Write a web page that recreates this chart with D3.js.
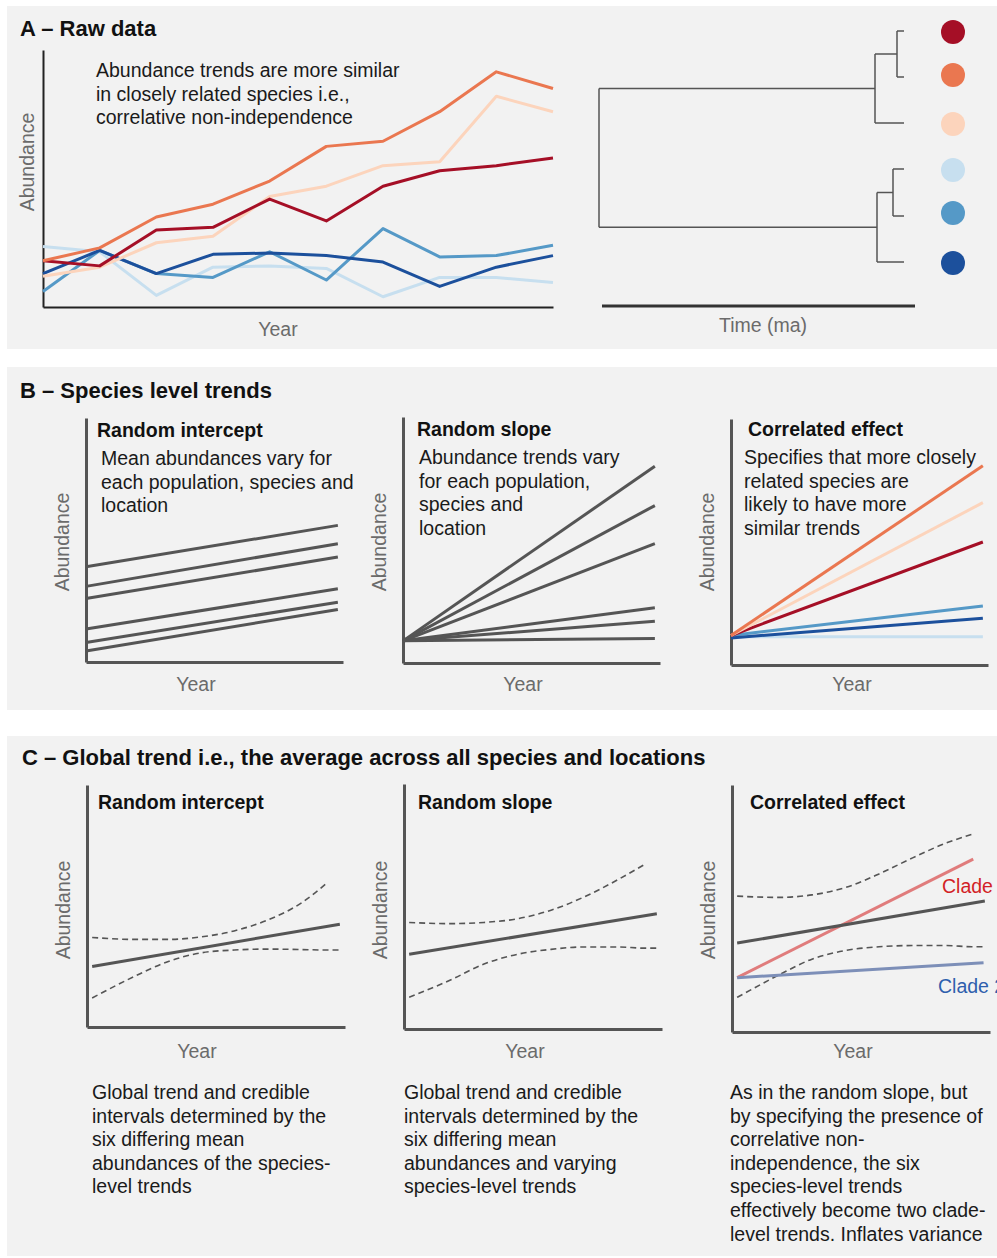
<!DOCTYPE html>
<html>
<head>
<meta charset="utf-8">
<script src="https://cdn.jsdelivr.net/npm/d3@7"></script>
<style>
  html, body { margin: 0; padding: 0; background: #ffffff; }
  svg { display: block; font-family: "Liberation Sans", Arial, Helvetica, sans-serif; }
</style>
</head>
<body>
<svg id="fig" width="997" height="1258"></svg>
<script>
// ---------- data ----------
const speciesNames = ["sp1", "sp2", "sp3", "sp4", "sp5", "sp6"];
const speciesColors = ["#a50f26", "#ea7750", "#fcd4bc", "#c7dfef", "#5599c7", "#1c509c"];
const rawYears = [0, 1, 2, 3, 4, 5, 6, 7, 8, 9];

// raw abundance series, one per species (same order as speciesNames)
const rawSp1 = [18, 16, 30, 31, 42, 33.5, 47, 53, 55, 58];
const rawSp2 = [18, 23, 35, 40, 49, 62.5, 64.5, 76, 91.5, 85];
const rawSp3 = [12, 15.5, 25, 27.5, 43, 47, 55, 56.5, 82, 76];
const rawSp4 = [23.5, 21.5, 4.5, 15.5, 16, 15, 4, 11.5, 11.5, 9.5];
const rawSp5 = [6, 22, 13, 11.5, 21.5, 10.5, 30.5, 19.5, 20, 24];
const rawSp6 = [13, 22, 13, 20.5, 21, 20, 17.5, 8, 15.5, 20];

// phylogeny (branch lengths in time units); tip order matches species order
const treeData = { children: [
  { len: 276, children: [
    { len: 22, children: [ { name: "sp1", len: 7 }, { name: "sp2", len: 7 } ] },
    { name: "sp3", len: 29 } ] },
  { len: 278, children: [
    { len: 16, children: [ { name: "sp4", len: 11 }, { name: "sp5", len: 11 } ] },
    { name: "sp6", len: 27 } ] }
] };
const tipRows = [31, 77, 123, 169, 216, 262];
const dotRows = [32, 75, 124, 170, 213, 263];

// species-level trends (start value, end value) for panel B
const trendYears = [0, 0.98];
const interceptStarts = [39, 31, 26, 13.5, 8, 4.5];
const interceptEnds = [56, 48.5, 43, 30, 24.5, 21.5];
const slopeStarts = [9, 9, 9, 9, 9, 9];
const slopeEnds = [80, 64, 48.5, 22.5, 17, 10];
const corrStarts = [12, 12, 12, 11.5, 12, 11];
const corrEnds = [50, 81, 66, 11.5, 24, 19];   // sp1..sp6

// global trends with credible intervals for panel C
const globalYears = [0.02, 0.98];
const ciYears = [0.02, 0.18, 0.31, 0.44, 0.57, 0.70, 0.83, 0.93, 0.98];
const gInterceptMean = [25, 42.5];
const gInterceptUpper = [37, 36.2, 36.2, 37.2, 39.7, 44.2, 51.2, 59.5, null];
const gInterceptLower = [12, 20.7, 26.9, 30.6, 31.8, 32.2, 32.0, 31.8, 31.8];
const gSlopeMean = [30.5, 47];
const gSlopeUpper = [43.5, 43, 43.5, 45, 48.5, 54, 61, 67, null];
const gSlopeLower = [13, 20, 26.5, 30.5, 32.5, 33.5, 33.5, 33, 33];
const gCorrMean = [36, 53];
const gCorrUpper = [55, 54.5, 55.5, 58.5, 64, 70.5, 76.5, 80, null];
const gCorrLower = [14, 23, 29.5, 33, 34.5, 35, 35, 34.5, 34.5];
const clade1Trend = [22, 70];
const clade1Years = [0.02, 0.935];
const clade2Trend = [22, 28];
const clade2Years = [0.02, 0.975];
const cladeLabels = ["Clade 1", "Clade 2"];
const cladeColors = ["#e07c7c", "#7d8fb8"];
const cladeTextColors = ["#d21f26", "#2f5fad"];

// ---------- styling ----------
const svg = d3.select("#fig");
const panelFill = "#f2f2f2";
const axisColor = "#555555";
const labelColor = "#6b6b6b";
const textSize = 19.5;

// panel backgrounds
const panels = [
  { y0: 6, y1: 349 },
  { y0: 367, y1: 710 },
  { y0: 736, y1: 1256 }
];
svg.selectAll("rect.panel").data(panels).join("rect")
  .attr("class", "panel")
  .attr("x", 7).attr("y", d => d.y0)
  .attr("width", 990).attr("height", d => d.y1 - d.y0)
  .attr("fill", panelFill);

function title(txt, x, y) {
  svg.append("text").attr("x", x).attr("y", y)
    .attr("font-size", 22).attr("font-weight", "bold").attr("fill", "#111")
    .attr("dominant-baseline", "central").text(txt);
}
function subTitle(txt, x, y) {
  svg.append("text").attr("x", x).attr("y", y)
    .attr("font-size", 19.5).attr("font-weight", "bold").attr("fill", "#111")
    .attr("dominant-baseline", "central").text(txt);
}
function para(lines, x, y, gap) {
  const t = svg.append("text").attr("font-size", textSize).attr("fill", "#1a1a1a");
  lines.forEach((l, i) => {
    t.append("tspan").attr("x", x).attr("y", y + i * gap)
      .attr("dominant-baseline", "central").text(l);
  });
}
function axisLabels(xs, yMid, yearX, yearY) {
  svg.append("text").attr("transform", `translate(${xs},${yMid}) rotate(-90)`)
    .attr("text-anchor", "middle").attr("dominant-baseline", "central")
    .attr("font-size", textSize).attr("fill", labelColor).text("Abundance");
  svg.append("text").attr("x", yearX).attr("y", yearY)
    .attr("text-anchor", "middle").attr("dominant-baseline", "central")
    .attr("font-size", textSize).attr("fill", labelColor).text("Year");
}
// plain L-shaped axis frame (no ticks)
function frame(x, y, w) {
  const g = svg.append("g");
  g.append("g").attr("transform", `translate(${x.range()[0]},0)`)
    .call(d3.axisLeft(y).tickValues([]).tickSizeOuter(0));
  g.append("g").attr("transform", `translate(0,${y.range()[0]})`)
    .call(d3.axisBottom(x).tickValues([]).tickSizeOuter(0));
  g.selectAll(".domain").attr("stroke", axisColor).attr("stroke-width", w);
  return g;
}

// ---------- A: raw data ----------
title("A – Raw data", 20, 28);
{
  const x = d3.scaleLinear().domain([0, 9]).range([43, 553]);
  const y = d3.scaleLinear().domain([0, 100]).range([307, 50]);
  const g = frame(x, y, 2);
  g.selectAll(".domain").attr("stroke", "#222");
  const series = [rawSp1, rawSp2, rawSp3, rawSp4, rawSp5, rawSp6];
  const line = d3.line().x((d, i) => x(rawYears[i])).y(d => y(d));
  const drawOrder = [3, 4, 5, 2, 0, 1];
  svg.append("g").selectAll("path").data(drawOrder).join("path")
    .attr("d", i => line(series[i]))
    .attr("fill", "none").attr("stroke", i => speciesColors[i])
    .attr("stroke-width", 3).attr("stroke-linejoin", "round");
  para(["Abundance trends are more similar", "in closely related species i.e.,",
        "correlative non-independence"], 96, 70, 23.5);
  axisLabels(27, 162, 278, 329);
}

// phylogeny with tip dots
{
  const root = d3.hierarchy(treeData);
  root.each(n => { n.dist = (n.parent ? n.parent.dist : 0) + (n.data.len || 0); });
  const tx = d3.scaleLinear().domain([0, d3.max(root.leaves(), d => d.dist)]).range([599, 904]);
  const tipY = d3.scaleOrdinal().domain(speciesNames).range(tipRows);
  root.eachAfter(n => {
    n.py = n.children ? d3.mean(n.children, c => c.py) : tipY(n.data.name);
  });
  const tg = svg.append("g").attr("fill", "none").attr("stroke", "#555").attr("stroke-width", 1.5);
  root.descendants().forEach(n => {
    if (n.parent) {
      tg.append("path").attr("d", `M${tx(n.parent.dist)},${n.py}H${tx(n.dist)}`);
    }
    if (n.children) {
      const ys = n.children.map(c => c.py);
      tg.append("path").attr("d", `M${tx(n.dist)},${d3.min(ys)}V${d3.max(ys)}`);
    }
  });
  const dotY = d3.scaleOrdinal().domain(speciesNames).range(dotRows);
  svg.append("g").selectAll("circle").data(speciesNames).join("circle")
    .attr("cx", 953).attr("cy", d => dotY(d))
    .attr("r", 12).attr("fill", (d, i) => speciesColors[i]);
  svg.append("line").attr("x1", 602).attr("x2", 915).attr("y1", 306).attr("y2", 306)
    .attr("stroke", "#333").attr("stroke-width", 3);
  svg.append("text").attr("x", 763).attr("y", 325).attr("text-anchor", "middle")
    .attr("dominant-baseline", "central").attr("font-size", textSize).attr("fill", labelColor)
    .text("Time (ma)");
}

// ---------- B: species level trends ----------
title("B – Species level trends", 20, 390);
function trendPanel(cfg) {
  const x = d3.scaleLinear().domain([0, 1]).range([cfg.x0, cfg.x1]);
  const y = d3.scaleLinear().domain([0, 100]).range([cfg.yb, cfg.yt]);
  frame(x, y, 3);
  const line = d3.line().x((d, i) => x(trendYears[i])).y(d => y(d));
  svg.append("g").selectAll("path").data(cfg.order).join("path")
    .attr("d", i => line([cfg.starts[i], cfg.ends[i]]))
    .attr("fill", "none").attr("stroke", i => cfg.colors ? cfg.colors[i] : axisColor)
    .attr("stroke-width", 3);
  subTitle(cfg.title, cfg.tx, cfg.ty);
  para(cfg.lines, cfg.px, cfg.ty + 28, 23.5);
  axisLabels(cfg.x0 - 24, 542, cfg.yearX, 684);
}
trendPanel({ x0: 86, x1: 343, yb: 662, yt: 418, starts: interceptStarts, ends: interceptEnds,
  order: [0, 1, 2, 3, 4, 5], title: "Random intercept", tx: 97, ty: 430, yearX: 196,
  px: 101, lines: ["Mean abundances vary for", "each population, species and", "location"] });
trendPanel({ x0: 403, x1: 660, yb: 663, yt: 417, starts: slopeStarts, ends: slopeEnds,
  order: [0, 1, 2, 3, 4, 5], title: "Random slope", tx: 417, ty: 429, yearX: 523,
  px: 419, lines: ["Abundance trends vary", "for each population,", "species and", "location"] });
trendPanel({ x0: 731, x1: 988, yb: 665, yt: 419, starts: corrStarts, ends: corrEnds,
  order: [3, 4, 5, 0, 2, 1], colors: speciesColors, title: "Correlated effect", tx: 748, ty: 429,
  yearX: 852,
  px: 744, lines: ["Specifies that more closely", "related species are", "likely to have more", "similar trends"] });

// ---------- C: global trend ----------
title("C – Global trend i.e., the average across all species and locations", 22, 757);
function globalPanel(cfg) {
  const x = d3.scaleLinear().domain([0, 1]).range([cfg.x0, cfg.x1]);
  const y = d3.scaleLinear().domain([0, 100]).range([cfg.yb, cfg.yt]);
  frame(x, y, 3);
  const straight = years => d3.line().x((d, i) => x(years[i])).y(d => y(d));
  const smooth = d3.line().defined(d => d[1] != null)
    .x(d => x(d[0])).y(d => y(d[1])).curve(d3.curveMonotoneX);
  const band = [cfg.upper, cfg.lower];
  svg.append("g").selectAll("path").data(band).join("path")
    .attr("d", s => smooth(ciYears.map((t, i) => [t, s[i]])))
    .attr("fill", "none").attr("stroke", axisColor).attr("stroke-width", 1.6)
    .attr("stroke-dasharray", "6,4");
  if (cfg.clades) {
    svg.append("g").selectAll("path").data(cfg.clades).join("path")
      .attr("d", c => straight(c.t)(c.v))
      .attr("fill", "none").attr("stroke", c => c.color).attr("stroke-width", 3);
  }
  svg.append("path").attr("d", straight(globalYears)(cfg.mean))
    .attr("fill", "none").attr("stroke", axisColor).attr("stroke-width", 3);
  subTitle(cfg.title, cfg.tx, 802);
  axisLabels(cfg.x0 - 24, 910, cfg.yearX, 1051);
  para(cfg.lines, cfg.px, 1092, 23.6);
}
globalPanel({ x0: 87, x1: 345, yb: 1027, yt: 785, mean: gInterceptMean,
  upper: gInterceptUpper, lower: gInterceptLower, title: "Random intercept", tx: 98, px: 92,
  yearX: 197,
  lines: ["Global trend and credible", "intervals determined by the", "six differing mean",
          "abundances of the species-", "level trends"] });
globalPanel({ x0: 404, x1: 662, yb: 1029, yt: 784, mean: gSlopeMean,
  upper: gSlopeUpper, lower: gSlopeLower, title: "Random slope", tx: 418, px: 404,
  yearX: 525,
  lines: ["Global trend and credible", "intervals determined by the", "six differing mean",
          "abundances and varying", "species-level trends"] });
globalPanel({ x0: 732, x1: 990, yb: 1032, yt: 785, mean: gCorrMean,
  upper: gCorrUpper, lower: gCorrLower, title: "Correlated effect", tx: 750, px: 730,
  yearX: 853,
  clades: [{ v: clade1Trend, t: clade1Years, color: cladeColors[0] },
           { v: clade2Trend, t: clade2Years, color: cladeColors[1] }],
  lines: ["As in the random slope, but", "by specifying the presence of", "correlative non-",
          "independence, the six", "species-level trends", "effectively become two clade-",
          "level trends. Inflates variance"] });
// clade labels
svg.selectAll("text.clade").data(cladeLabels).join("text")
  .attr("class", "clade").attr("x", (d, i) => [942, 938][i]).attr("y", (d, i) => [886, 986][i])
  .attr("dominant-baseline", "central").attr("font-size", textSize)
  .attr("fill", (d, i) => cladeTextColors[i]).text(d => d);
</script>
</body>
</html>
